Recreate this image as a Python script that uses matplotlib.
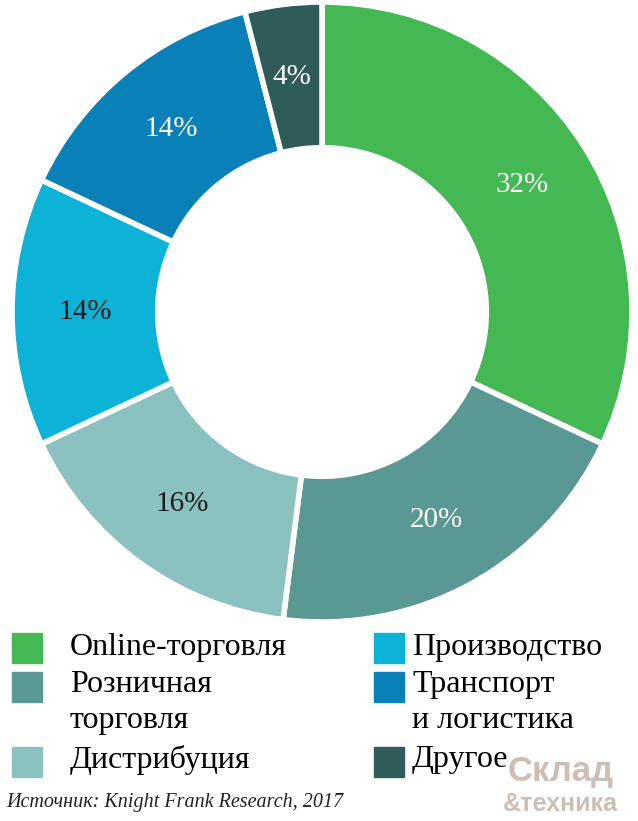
import matplotlib.pyplot as plt
from matplotlib.patches import Rectangle
import math

labels = ["Online-торговля", "Розничная\nторговля", "Дистрибуция", "Производство", "Транспорт\nи логистика", "Другое"]
values = [32, 20, 16, 14, 14, 4]
colors = ["#43b853", "#5a9893", "#8bc1bf", "#0db3d6", "#0a80b9", "#2f5b59"]
pct_colors = ["white", "white", "#1a1a1a", "#1a1a1a", "white", "white"]

W, H = 638, 821
fig = plt.figure(figsize=(W/100, H/100), dpi=100)
cx, cy, R = 322, 312, 310
ax = fig.add_axes([(cx-R)/W, (H-cy-R)/H, 2*R/W, 2*R/H])
ax.pie(values, colors=colors, startangle=90, counterclock=False,
       radius=1, wedgeprops=dict(width=0.47, edgecolor="white", linewidth=4))
ang = 90
for v, c in zip(values, pct_colors):
    mid = ang - v*3.6/2
    ang -= v*3.6
    r = 0.765
    ax.text(r*math.cos(math.radians(mid)), r*math.sin(math.radians(mid)), f"{v}%",
            ha="center", va="center", fontsize=21, color=c, family="Liberation Serif")
ax.set_xlim(-1, 1); ax.set_ylim(-1, 1); ax.set_aspect("equal"); ax.axis("off")

fa = fig.add_axes([0, 0, 1, 1]); fa.set_xlim(0, W); fa.set_ylim(H, 0); fa.axis("off")
fa.text(614, 771, "Склад", fontsize=25, fontweight="bold", color="#cdbfb4", ha="right", va="center", family="Liberation Sans")
fa.text(618, 804, "&техника", fontsize=18, fontweight="bold", color="#cdbfb4", ha="right", va="center", family="Liberation Sans")
pos = [(12, 633, 648), (12, 672, 687), (12, 747, 760), (374, 633, 648), (374, 672, 687), (374, 747, 760)]
for (x, y, ty), lab, col in zip(pos, labels, colors):
    fa.add_patch(Rectangle((x, y), 30, 30, color=col))
    tx = x + (58 if x < 100 else 38)
    if "\n" in lab:
        fa.text(tx, ty - 17, lab, fontsize=23, va="top", ha="left",
                family="Liberation Serif", linespacing=1.3)
    else:
        fa.text(tx, ty, lab, fontsize=23, va="center", ha="left", family="Liberation Serif")
fa.text(6, 802, "Источник: Knight Frank Research, 2017", fontsize=14.5, style="italic",
        va="center", ha="left", family="Liberation Serif", color="#222222")
fig.savefig("out.png", dpi=100)
